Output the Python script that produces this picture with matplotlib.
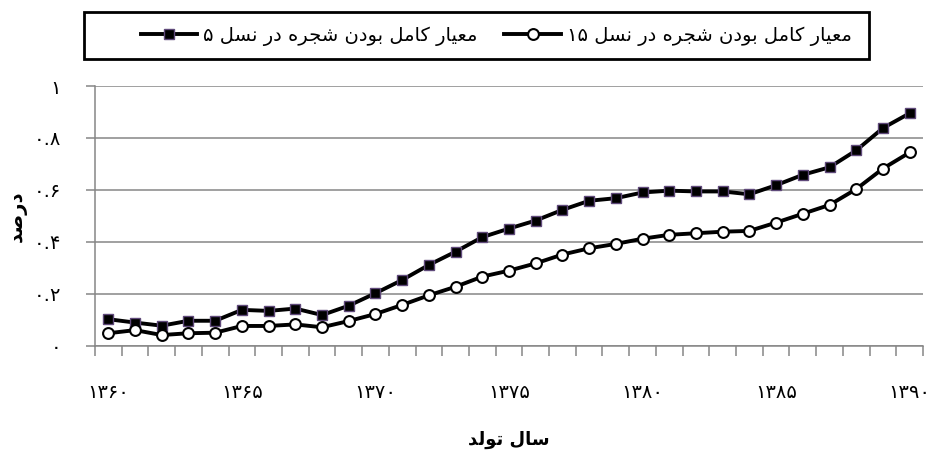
import matplotlib
matplotlib.use("Agg")
import matplotlib.pyplot as plt
from matplotlib.ticker import FixedLocator, FixedFormatter
from matplotlib.patches import Rectangle

# ---------------- data ----------------
years = list(range(1360, 1391))
gen5 = [0.102, 0.089, 0.077, 0.096, 0.096, 0.138, 0.134, 0.143, 0.118, 0.154,
        0.202, 0.253, 0.311, 0.362, 0.418, 0.451, 0.482, 0.523, 0.558, 0.568,
        0.590, 0.597, 0.594, 0.594, 0.583, 0.618, 0.658, 0.687, 0.752, 0.838,
        0.895]
gen15 = [0.048, 0.060, 0.041, 0.048, 0.050, 0.076, 0.076, 0.082, 0.071, 0.095,
         0.122, 0.157, 0.194, 0.227, 0.266, 0.289, 0.317, 0.351, 0.375, 0.392,
         0.412, 0.427, 0.433, 0.439, 0.442, 0.474, 0.508, 0.542, 0.603, 0.682,
         0.744]
label5 = "معیار کامل بودن شجره در نسل ۵"
label15 = "معیار کامل بودن شجره در نسل ۱۵"
xlabel = "سال تولد"
ylabel = "درصد"
xtick_years = [1360, 1365, 1370, 1375, 1380, 1385, 1390]
yticks = [0, 0.2, 0.4, 0.6, 0.8, 1.0]
ytick_labels = ["۰", "۰.۲", "۰.۴", "۰.۶", "۰.۸", "۱"]

# ---------------- minimal Arabic/Persian shaping (matplotlib has no CTL) ----------------
FORMS = {  # isolated, final, initial, medial
    'ا': ('\uFE8D', '\uFE8E', None, None),
    'ب': ('\uFE8F', '\uFE90', '\uFE91', '\uFE92'),
    'ت': ('\uFE95', '\uFE96', '\uFE97', '\uFE98'),
    'ج': ('\uFE9D', '\uFE9E', '\uFE9F', '\uFEA0'),
    'د': ('\uFEA9', '\uFEAA', None, None),
    'ر': ('\uFEAD', '\uFEAE', None, None),
    'س': ('\uFEB1', '\uFEB2', '\uFEB3', '\uFEB4'),
    'ش': ('\uFEB5', '\uFEB6', '\uFEB7', '\uFEB8'),
    'ص': ('\uFEB9', '\uFEBA', '\uFEBB', '\uFEBC'),
    'ع': ('\uFEC9', '\uFECA', '\uFECB', '\uFECC'),
    'ل': ('\uFEDD', '\uFEDE', '\uFEDF', '\uFEE0'),
    'م': ('\uFEE1', '\uFEE2', '\uFEE3', '\uFEE4'),
    'ن': ('\uFEE5', '\uFEE6', '\uFEE7', '\uFEE8'),
    'ه': ('\uFEE9', '\uFEEA', '\uFEEB', '\uFEEC'),
    'و': ('\uFEED', '\uFEEE', None, None),
    'ی': ('\uFBFC', '\uFBFD', '\uFBFE', '\uFBFF'),
    'ک': ('\uFB8E', '\uFB8F', '\uFB90', '\uFB91'),
}


def shape(s):
    out = []
    for i, c in enumerate(s):
        if c not in FORMS:
            out.append(c)
            continue
        prev = s[i - 1] if i > 0 else ''
        nxt = s[i + 1] if i + 1 < len(s) else ''
        pj = prev in FORMS and FORMS[prev][2] is not None
        nj = nxt in FORMS and FORMS[c][2] is not None
        iso, fin, ini, med = FORMS[c]
        if pj and nj:
            out.append(med)
        elif pj:
            out.append(fin)
        elif nj:
            out.append(ini)
        else:
            out.append(iso)
    return ''.join(out)


def visual(s):
    digits = set('۰۱۲۳۴۵۶۷۸۹0123456789.')
    shaped = shape(s)
    runs = []
    for c in shaped:
        isd = c in digits
        if runs and runs[-1][0] == isd:
            runs[-1][1].append(c)
        else:
            runs.append((isd, [c]))
    res = []
    for isd, chars in reversed(runs):
        res.append(''.join(chars) if isd else ''.join(reversed(chars)))
    return ''.join(res)


# ---------------- figure ----------------
plt.rcParams['font.family'] = ['DejaVu Sans']
W, H = 932, 459
fig = plt.figure(figsize=(W / 100, H / 100), dpi=100)
L, R, B, T = 95, 923, 345.7, 86
ax = fig.add_axes([L / W, 1 - B / H, (R - L) / W, (B - T) / H])

grey = '#868686'
xs = list(range(len(years)))
ax.plot(xs, gen5, color='black', lw=2.8, marker='s', ms=7.0,
        mfc='black', mec='#5f497a', mew=1.0, label=visual(label5), zorder=3)
ax.plot(xs, gen15, color='black', lw=2.8, marker='o', ms=7.8,
        mfc='white', mec='black', mew=1.5, label=visual(label15), zorder=3)

ax.set_xlim(-0.5, len(years) - 0.5)
ax.set_ylim(0, 1)

# y axis
ax.set_yticks(yticks)
ax.set_yticklabels(ytick_labels)
ax.tick_params(axis='y', direction='out', length=6.5, width=1.1, color=grey,
               pad=18, labelsize=14)
ax.yaxis.grid(True, color=grey, lw=1.1)
ax.set_axisbelow(True)

# x axis: category labels under points, tick marks between categories
pos = [years.index(y) for y in xtick_years]
ax.xaxis.set_major_locator(FixedLocator(pos))
ax.xaxis.set_major_formatter(FixedFormatter(
    [str(y).translate(str.maketrans('0123456789', '۰۱۲۳۴۵۶۷۸۹')) for y in xtick_years]))
ax.xaxis.set_minor_locator(FixedLocator([i - 0.5 for i in range(len(years) + 1)]))
ax.tick_params(axis='x', which='major', length=0, pad=27, labelsize=14)
ax.tick_params(axis='x', which='minor', direction='out', length=7, width=1.1, color=grey)

for side in ('top', 'right'):
    ax.spines[side].set_visible(False)
for side in ('left', 'bottom'):
    ax.spines[side].set_color(grey)
    ax.spines[side].set_linewidth(1.1)

ax.set_xlabel(visual(xlabel), fontsize=13, fontweight='bold', va='center')
ax.xaxis.set_label_coords(0.5, (B - 440) / (B - T))
ax.set_ylabel(visual(ylabel), fontsize=14, fontweight='bold', va='center')
ax.yaxis.set_label_coords((17 - L) / (R - L), 0.5)

# legend (entries positioned like the reference, frame drawn as a box around them)
leg = ax.legend(loc='center', bbox_to_anchor=(496 / W, 1 - 36 / H),
                bbox_transform=fig.transFigure, ncol=2, fontsize=14,
                handlelength=2.9, handletextpad=0.3, columnspacing=1.4,
                frameon=False, borderpad=0.2)
fig.patches.append(Rectangle((84 / W, 1 - 59 / H), (869 - 84) / W, (59 - 12) / H,
                             transform=fig.transFigure, fill=False,
                             edgecolor='black', linewidth=2.0))

fig.savefig('out.png', dpi=100)
